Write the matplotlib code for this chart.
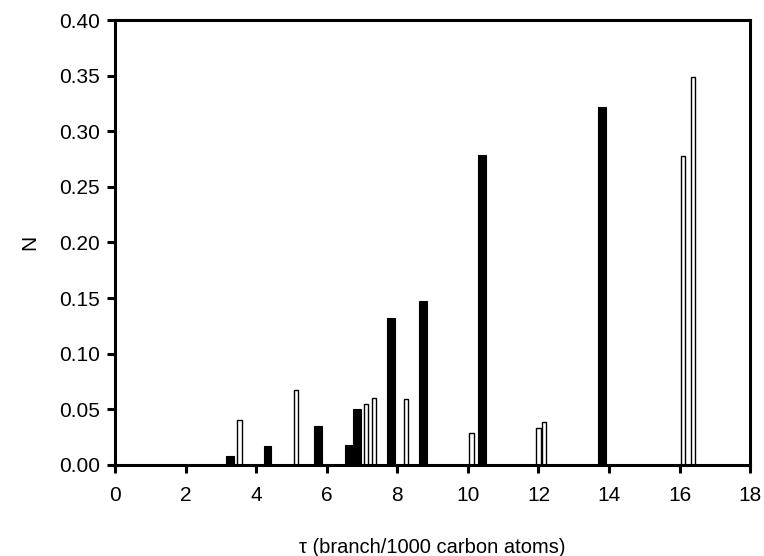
import numpy as np
import matplotlib.pyplot as plt

plt.rcParams['font.family'] = ['Liberation Sans', 'DejaVu Sans']

# filled bars
black_x = [3.25, 4.32, 5.75, 6.63, 6.85, 7.82, 8.72, 10.4, 13.8]
black_n = [0.008, 0.017, 0.035, 0.018, 0.050, 0.132, 0.147, 0.279, 0.322]

# open bars
white_x = [3.53, 5.13, 7.12, 7.33, 8.25, 10.1, 12.0, 12.15, 16.1, 16.38]
white_n = [0.040, 0.067, 0.055, 0.060, 0.059, 0.029, 0.033, 0.039, 0.278, 0.349]

fig = plt.figure(figsize=(7.64, 5.56), dpi=100)
ax = fig.add_axes([0.1505, 0.1637, 0.8315, 0.8003])

ax.bar(black_x, black_n, width=0.22, color='black', edgecolor='black', linewidth=0.8)
ax.bar(white_x, white_n, width=0.12, color='white', edgecolor='black', linewidth=1.0)

ax.set_xlim(0, 18)
ax.set_ylim(0, 0.40)
ax.set_xticks(np.arange(0, 19, 2))
ax.set_yticks(np.arange(0, 0.41, 0.05))
ax.set_yticklabels([f"{v:.2f}" for v in np.arange(0, 0.41, 0.05)])

for s in ax.spines.values():
    s.set_linewidth(2.2)
ax.tick_params(direction='out', length=6, width=2.2, labelsize=15)
ax.tick_params(axis='x', pad=9)
ax.tick_params(axis='y', pad=5)

ax.set_xlabel("\u03c4 (branch/1000 carbon atoms)", fontsize=14.5, labelpad=24)
ax.set_ylabel("N", fontsize=15, labelpad=14)

fig.savefig("out.png", dpi=100)
